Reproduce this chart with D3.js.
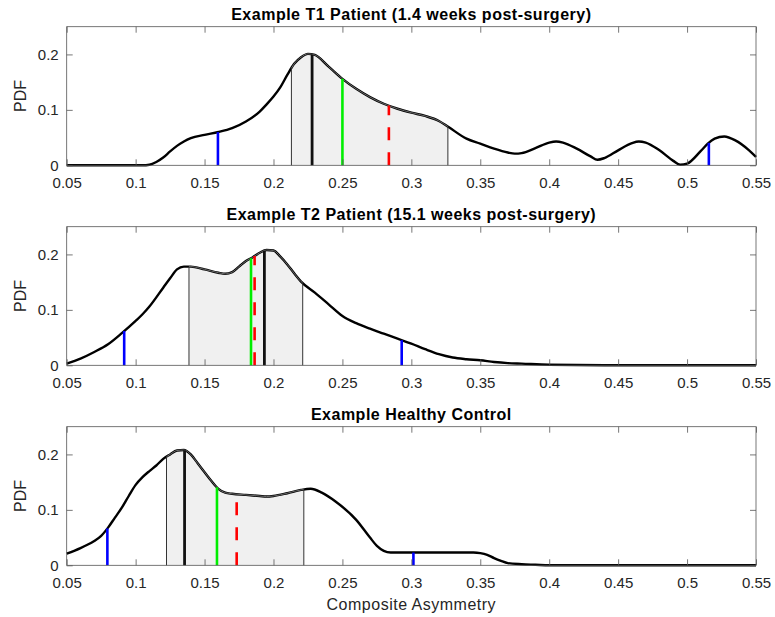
<!DOCTYPE html>
<html>
<head>
<meta charset="utf-8">
<script src="https://d3js.org/d3.v7.min.js"></script>
<style>
  body { margin: 0; background: #fff; }
  text { font-family: "Liberation Sans", Arial, Helvetica, sans-serif; }
</style>
</head>
<body>
<div id="viz"></div>
<script>
// ---- data ----
var xTicks = [0.05, 0.1, 0.15, 0.2, 0.25, 0.3, 0.35, 0.4, 0.45, 0.5, 0.55];
var xTickLabels = ["0.05", "0.1", "0.15", "0.2", "0.25", "0.3", "0.35", "0.4", "0.45", "0.5", "0.55"];
var yTicks = [0, 0.1, 0.2];
var yTickLabels = ["0", "0.1", "0.2"];

var titles = [
  "Example T1 Patient (1.4 weeks post-surgery)",
  "Example T2 Patient (15.1 weeks post-surgery)",
  "Example Healthy Control"
];

// T1 patient density
var t1X = [0.05, 0.105, 0.11, 0.115, 0.12, 0.125, 0.13, 0.135, 0.14, 0.15, 0.16, 0.17, 0.18, 0.19, 0.195,
           0.2, 0.205, 0.21, 0.215, 0.22, 0.225, 0.23, 0.24, 0.25, 0.26, 0.27, 0.28, 0.29, 0.3, 0.31,
           0.32, 0.327, 0.34, 0.35, 0.36, 0.37, 0.375, 0.38, 0.39, 0.4, 0.405, 0.41, 0.42, 0.43, 0.435,
           0.44, 0.45, 0.46, 0.465, 0.47, 0.48, 0.49, 0.495, 0.5, 0.51, 0.515, 0.52, 0.527, 0.535, 0.545, 0.55];
var t1Y = [0, 0, 0.001, 0.006, 0.014, 0.025, 0.035, 0.043, 0.049, 0.055, 0.060, 0.067, 0.079, 0.097, 0.110,
           0.124, 0.141, 0.163, 0.183, 0.195, 0.201, 0.199, 0.178, 0.156, 0.138, 0.123, 0.111, 0.102, 0.095, 0.089,
           0.080, 0.069, 0.048, 0.039, 0.030, 0.023, 0.021, 0.022, 0.031, 0.041, 0.043, 0.041, 0.030, 0.016, 0.010,
           0.013, 0.027, 0.040, 0.043, 0.041, 0.027, 0.008, 0.001, 0.003, 0.026, 0.039, 0.048, 0.052, 0.045, 0.027, 0.015];

// T2 patient density
var t2X = [0.05, 0.06, 0.07, 0.08, 0.09, 0.1, 0.105, 0.11, 0.12, 0.125, 0.13, 0.135, 0.14, 0.15, 0.16, 0.165,
           0.17, 0.175, 0.18, 0.185, 0.19, 0.195, 0.2, 0.205, 0.21, 0.215, 0.22, 0.23, 0.24, 0.25, 0.26, 0.27,
           0.28, 0.29, 0.3, 0.31, 0.32, 0.33, 0.34, 0.35, 0.36, 0.37, 0.38, 0.4, 0.45, 0.55];
var t2Y = [0.003, 0.012, 0.024, 0.038, 0.058, 0.080, 0.092, 0.106, 0.140, 0.157, 0.173, 0.178, 0.178, 0.173, 0.167, 0.165,
           0.168, 0.178, 0.188, 0.195, 0.203, 0.208, 0.207, 0.196, 0.182, 0.166, 0.151, 0.131, 0.110, 0.089, 0.076, 0.066,
           0.057, 0.048, 0.039, 0.029, 0.020, 0.014, 0.011, 0.009, 0.006, 0.004, 0.003, 0.001, 0, 0];

// healthy control density
var hcX = [0.05, 0.06, 0.065, 0.07, 0.075, 0.08, 0.085, 0.09, 0.095, 0.1, 0.105, 0.11, 0.115, 0.12, 0.125, 0.13,
           0.135, 0.14, 0.145, 0.15, 0.155, 0.16, 0.165, 0.17, 0.18, 0.19, 0.195, 0.2, 0.21, 0.22, 0.227, 0.235,
           0.245, 0.26, 0.27, 0.275, 0.28, 0.285, 0.3, 0.345, 0.35, 0.355, 0.36, 0.365, 0.37, 0.38, 0.39, 0.4, 0.55];
var hcY = [0.021, 0.031, 0.037, 0.044, 0.053, 0.068, 0.086, 0.104, 0.125, 0.145, 0.159, 0.170, 0.180, 0.192, 0.200, 0.207,
           0.208, 0.200, 0.184, 0.168, 0.152, 0.138, 0.131, 0.129, 0.127, 0.125, 0.124, 0.125, 0.130, 0.136, 0.138, 0.131,
           0.115, 0.082, 0.050, 0.035, 0.026, 0.023, 0.023, 0.023, 0.022, 0.019, 0.013, 0.008, 0.004, 0.002, 0.001, 0, 0];

// interval shading [lo, hi], black / green / red-dashed markers, blue tails
var shadeLo = [0.213, 0.1387, 0.1224];
var shadeHi = [0.3265, 0.2212, 0.222];
var blackMark = [0.228, 0.1934, 0.1355];
var greenMark = [0.25, 0.1837, 0.159];
var redMark = [0.2837, 0.1863, 0.1733];
var blueMark = [[0.1597, 0.5158], [0.0917, 0.293], [0.0795, 0.3015]];

var curvesX = [t1X, t2X, hcX];
var curvesY = [t1Y, t2Y, hcY];

// ---- layout ----
var W = 775, H = 617;
var left = 66.7, right = 756;
var panelTop = [26.7, 226.7, 426.7];
var panelH = 138.6;

var svg = d3.select("#viz").append("svg")
  .attr("width", W)
  .attr("height", H);

var x = d3.scaleLinear().domain([0.05, 0.55]).range([left, right]);

function interp(xs, ys, v) {
  var i = d3.bisectLeft(xs, v);
  if (i <= 0) return ys[0];
  if (i >= xs.length) return ys[ys.length - 1];
  var t = (v - xs[i - 1]) / (xs[i] - xs[i - 1]);
  return ys[i - 1] + t * (ys[i] - ys[i - 1]);
}

titles.forEach(function (title, k) {
  var top = panelTop[k], bottom = top + panelH;
  var y = d3.scaleLinear().domain([0, 0.25]).range([bottom, top]);
  var xs = curvesX[k], ys = curvesY[k];
  var pts = xs.map(function (v, i) { return [v, ys[i]]; });

  var g = svg.append("g");

  var line = d3.line()
    .x(function (d) { return x(d[0]); })
    .y(function (d) { return y(d[1]); })
    .curve(d3.curveMonotoneX);

  // shaded interval (fill first)
  var lo = shadeLo[k], hi = shadeHi[k];
  var shadePts = [[lo, interp(xs, ys, lo)]]
    .concat(pts.filter(function (d) { return d[0] > lo && d[0] < hi; }))
    .concat([[hi, interp(xs, ys, hi)]]);
  var area = d3.area()
    .x(function (d) { return x(d[0]); })
    .y0(y(0))
    .y1(function (d) { return y(d[1]); })
    .curve(d3.curveMonotoneX);
  g.append("path")
    .datum(shadePts)
    .attr("fill", "#f0f0f0")
    .attr("stroke", "none")
    .attr("d", area);

  // curve
  g.append("path")
    .datum(pts)
    .attr("fill", "none")
    .attr("stroke", "#000")
    .attr("stroke-width", 2.4)
    .attr("d", line);

  // edge of the shaded patch on top of the curve
  g.append("path")
    .datum(shadePts)
    .attr("fill", "none")
    .attr("stroke", "#777")
    .attr("stroke-width", 0.9)
    .attr("d", line);

  function vline(v, color, width, dash) {
    var l = g.append("line")
      .attr("x1", x(v)).attr("x2", x(v))
      .attr("y1", y(0)).attr("y2", y(interp(xs, ys, v)))
      .attr("stroke", color)
      .attr("stroke-width", width);
    if (dash) l.attr("stroke-dasharray", dash);
  }

  vline(lo, "#333", 1);
  vline(hi, "#333", 1);
  vline(blueMark[k][0], "#0000ff", 2.6);
  vline(blueMark[k][1], "#0000ff", 2.6);
  vline(greenMark[k], "#00ee00", 2.6);
  vline(redMark[k], "#ff0000", 2.6, "13,12");
  vline(blackMark[k], "#111", 2.8);

  // axes box and inward ticks
  g.append("rect")
    .attr("x", left).attr("y", top)
    .attr("width", right - left).attr("height", panelH)
    .attr("fill", "none")
    .attr("stroke", "#555")
    .attr("stroke-width", 0.8);

  var xb = g.append("g")
    .attr("transform", "translate(0," + bottom + ")")
    .call(d3.axisBottom(x).tickValues(xTicks)
      .tickFormat(function (d, i) { return xTickLabels[i]; })
      .tickSize(-6).tickPadding(12));
  var xt = g.append("g")
    .attr("transform", "translate(0," + top + ")")
    .call(d3.axisTop(x).tickValues(xTicks).tickFormat("").tickSize(-6));
  var yl = g.append("g")
    .attr("transform", "translate(" + left + ",0)")
    .call(d3.axisLeft(y).tickValues(yTicks)
      .tickFormat(function (d, i) { return yTickLabels[i]; })
      .tickSize(-6).tickPadding(8));
  var yr = g.append("g")
    .attr("transform", "translate(" + right + ",0)")
    .call(d3.axisRight(y).tickValues(yTicks).tickFormat("").tickSize(-6));

  [xb, xt, yl, yr].forEach(function (a) {
    a.select(".domain").remove();
    a.selectAll(".tick line").attr("stroke", "#555").attr("stroke-width", 0.8);
    a.selectAll(".tick text")
      .attr("fill", "#262626")
      .style("font-size", "15px")
      .style("font-family", "'Liberation Sans', Arial, sans-serif");
  });

  // title
  g.append("text")
    .attr("x", (left + right) / 2)
    .attr("y", top - 7)
    .attr("text-anchor", "middle")
    .style("font-size", "16px")
    .style("font-weight", "bold")
    .style("letter-spacing", "0.5px")
    .attr("fill", "#000")
    .text(title);

  // y label
  g.append("text")
    .attr("transform", "translate(26," + (top + panelH / 2) + ") rotate(-90)")
    .attr("text-anchor", "middle")
    .style("font-size", "16px")
    .attr("fill", "#262626")
    .text("PDF");
});

svg.append("text")
  .attr("x", (left + right) / 2)
  .attr("y", 610)
  .attr("text-anchor", "middle")
  .style("font-size", "16px")
  .style("letter-spacing", "0.5px")
  .attr("fill", "#262626")
  .text("Composite Asymmetry");
</script>
</body>
</html>
